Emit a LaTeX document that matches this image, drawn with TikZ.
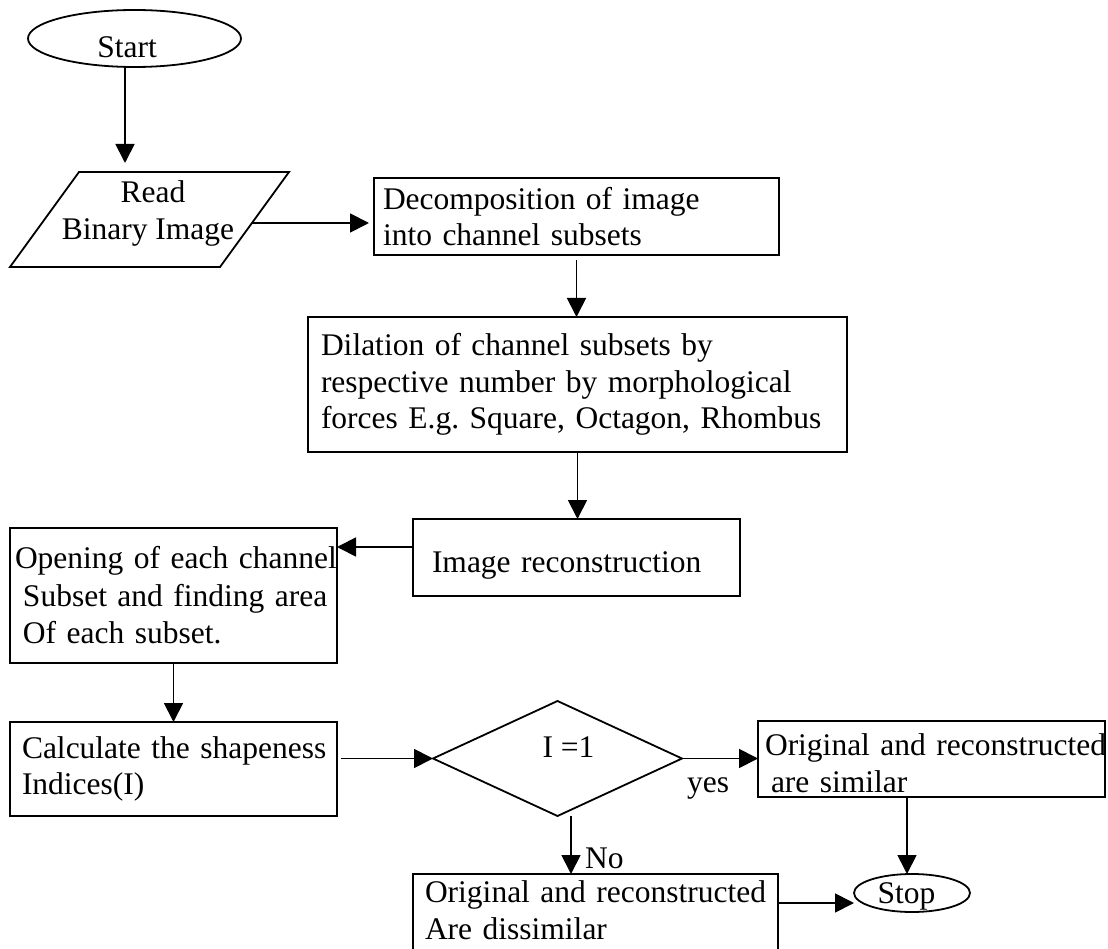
\documentclass[tikz,border=0pt]{standalone}
\usepackage{fontspec}
\setmainfont{Liberation Serif}
\usetikzlibrary{arrows.meta,shapes.geometric}
\newcommand\oneline[1]{\mbox{#1}}
\tikzset{
  every node/.style={font=\fontsize{31.5}{36.5}\selectfont, outer sep=0pt,
    execute at begin node={\frenchspacing\hyphenpenalty=10000\exhyphenpenalty=10000}},
  box/.style={draw, rectangle, align=left, anchor=north west, inner ysep=0pt, line width=1.8pt},
  oval/.style={draw, ellipse, inner sep=0pt, line width=1.8pt},
  decision/.style={draw, diamond, inner sep=0pt, line width=1.8pt},
  lbl/.style={inner sep=0pt},
  arr/.style={-{Triangle[length=19pt,width=19pt]}, line width=1.8pt},
  edge/.style={line width=1.8pt}
}
\begin{document}
\begin{tikzpicture}[x=1pt,y=-1pt]
\useasboundingbox (0,0) rectangle (1108,949);
\clip (0,0) rectangle (1108,949);
\fill[white] (0,0) rectangle (1108,949);

% Start
\node[oval, minimum width=213pt, minimum height=57pt] (start) at (134.5,38.5)
  {\hspace*{-15pt}\raisebox{-8.5pt}[22pt][0pt]{Start}};

% Read Binary Image (parallelogram)
\draw[edge] (79,172) -- (289,172) -- (220,267) -- (10,267) -- cycle;
\coordinate (rdT) at (125,172);
\coordinate (rdR) at (252,223);
\node[align=center, inner sep=0pt] (rd) at (148,213.5) {\hspace*{10pt}Read\\Binary Image};

% Boxes
\node[box, inner xsep=9pt, text width=387pt, minimum height=77pt] (dec) at (374,178)
  {\oneline{Decomposition of image}\\\oneline{into channel subsets}};
\node[box, inner xsep=13pt, text width=513pt, minimum height=135pt] (dil) at (308,317)
  {\oneline{Dilation of channel subsets by}\\\oneline{respective number by morphological}\\\oneline{forces E.g. Square, Octagon, Rhombus}};
\node[box, inner xsep=19pt, text width=289pt, minimum height=77pt, text height=37pt] (ir) at (413,519)
  {\oneline{Image reconstruction}};
\node[box, inner xsep=5pt, text width=317pt, minimum height=135pt] (op) at (10,528)
  {\oneline{Opening of each channel}\\[1pt]\oneline{\hspace*{8pt}Subset and finding area}\\[1pt]\oneline{\hspace*{8pt}Of each subset.}};
\node[box, inner xsep=12pt, text width=303pt, minimum height=94pt] (calc) at (10,722)
  {\oneline{Calculate the shapeness}\\\oneline{Indices(I)}};
\node[decision, minimum width=249pt, minimum height=115pt] (dia) at (557.5,758.5)
  {\hspace*{22pt}\raisebox{12.5pt}[22pt][0pt]{I =1}};
\node[box, inner xsep=7pt, text width=333pt, minimum height=76pt, text height=30pt] (yes) at (758,721)
  {\oneline{Original and reconstructed}\\\oneline{\hspace*{6pt}are similar}};
\node[box, inner xsep=12pt, text width=341pt, minimum height=90pt, text height=4.5pt] (dis) at (413,874)
  {\oneline{Original and reconstructed}\\\oneline{Are dissimilar}};
\node[oval, minimum width=116pt, minimum height=38pt] (stop) at (912,893)
  {\hspace*{-11pt}\raisebox{1pt}[22pt][0pt]{Stop}};

% Labels
\node[lbl, anchor=base] (yeslbl) at (708,792) {yes};
\node[lbl, anchor=base west] (nolbl) at (585,868) {No};

% Connectors
\draw[arr, shorten >=9pt] ([xshift=-9.5pt]start.south) -- (rdT);
\draw[arr, shorten >=5pt] (rdR) -- (rdR -| dec.west);
\draw[arr, shorten <=5pt] (dec.south) -- (dec.south |- dil.north);
\draw[arr] (dil.south) -- (dil.south |- ir.north);
\draw[arr] ([yshift=10.5pt]ir.west) -- ([yshift=10.5pt]ir.west -| op.east);
\draw[arr] (op.south) -- (op.south |- calc.north);
\draw[arr, shorten <=4pt] (dia.west -| calc.east) -- (dia.west);
\draw[arr] (dia.east) -- (dia.east -| yes.west);
\draw[arr] ([xshift=13.5pt]dia.south) -- ([xshift=13.5pt]dia.south |- dis.north);
\draw[arr] ([xshift=-5pt]stop.north |- yes.south) -- ([xshift=-5pt]stop.north);
\draw[arr] ([yshift=-29pt]dis.north east) -- ([yshift=-29pt]dis.north east -| stop.west);
\end{tikzpicture}
\end{document}
